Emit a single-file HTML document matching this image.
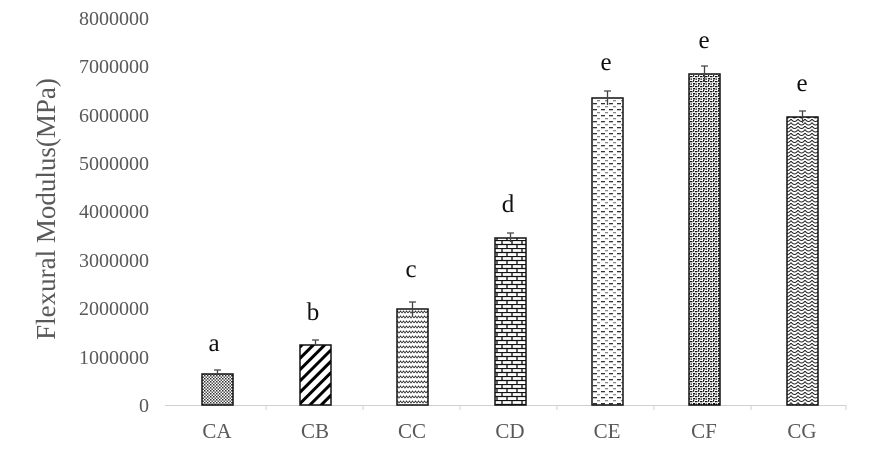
<!DOCTYPE html>
<html><head><meta charset="utf-8"><style>
html,body{margin:0;padding:0;background:#fff;}
svg{display:block;font-family:"Liberation Serif",serif;}
</style></head><body>
<svg width="886" height="466" viewBox="0 0 886 466" xmlns="http://www.w3.org/2000/svg">
<defs>
<pattern id="pA" width="3" height="3" patternUnits="userSpaceOnUse"><rect width="3" height="3" fill="#fff"/><rect width="1.5" height="1.5" fill="#333"/><rect x="1.5" y="1.5" width="1.5" height="1.5" fill="#555"/></pattern>
<pattern id="pB" width="8" height="8" patternUnits="userSpaceOnUse" patternTransform="rotate(45)"><rect width="8" height="8" fill="#fff"/><rect width="3" height="8" fill="#000"/></pattern>
<pattern id="pC" width="6" height="5" patternUnits="userSpaceOnUse"><rect width="6" height="5" fill="#fff"/><path d="M0 3 L1.5 1 L3 3 L4.5 1 L6 3" stroke="#333" fill="none" stroke-width="0.9"/></pattern>
<pattern id="pD" width="10" height="8" patternUnits="userSpaceOnUse"><rect width="10" height="8" fill="#fff"/><path d="M0 0.5H10M0 4.5H10M2 0V4M7 4V8" stroke="#111" stroke-width="1.3"/></pattern>
<pattern id="pE" width="8" height="6" patternUnits="userSpaceOnUse"><rect width="8" height="6" fill="#fff"/><rect x="1" y="1" width="4" height="1.3" fill="#333"/><rect x="5" y="4" width="3" height="1.3" fill="#888"/></pattern>
<pattern id="pF" width="5" height="5" patternUnits="userSpaceOnUse"><rect width="5" height="5" fill="#fff"/><path d="M0 1h2.5v1.2h-2.5zM3 3h2v1.5h-2zM0.5 3.5h1.5v1.2h-1.5zM3 0h1.2v1.8h-1.2z" fill="#111"/></pattern>
<pattern id="pG" width="7" height="7" patternUnits="userSpaceOnUse"><rect width="7" height="7" fill="#fff"/><path d="M0 0 Q3.5 5 7 0M0 3.5 Q3.5 8.5 7 3.5" stroke="#222" fill="none" stroke-width="1"/></pattern>
</defs>
<g fill="#595959" font-size="20" text-anchor="end">
<text x="149" y="412">0</text>
<text x="149" y="364">1000000</text>
<text x="149" y="315">2000000</text>
<text x="149" y="267">3000000</text>
<text x="149" y="218">4000000</text>
<text x="149" y="170">5000000</text>
<text x="149" y="122">6000000</text>
<text x="149" y="73">7000000</text>
<text x="149" y="25">8000000</text>
</g>
<text transform="translate(55,209) rotate(-90)" text-anchor="middle" font-size="27" fill="#595959">Flexural Modulus(MPa)</text>
<line x1="165" y1="405.5" x2="846" y2="405.5" stroke="#d0d0d0" stroke-width="1"/>
<g stroke="#d0d0d0"><line x1="266" y1="405" x2="266" y2="410"/><line x1="363" y1="405" x2="363" y2="410"/><line x1="460" y1="405" x2="460" y2="410"/><line x1="557" y1="405" x2="557" y2="410"/><line x1="654" y1="405" x2="654" y2="410"/><line x1="751" y1="405" x2="751" y2="410"/><line x1="846" y1="405" x2="846" y2="410"/></g>
<g stroke="#111" stroke-width="1.5">
<rect x="202" y="374" width="31" height="31" fill="url(#pA)"/>
<rect x="300" y="345" width="31" height="60" fill="url(#pB)"/>
<rect x="397" y="309" width="31" height="96" fill="url(#pC)"/>
<rect x="495" y="238" width="31" height="167" fill="url(#pD)"/>
<rect x="592" y="98" width="31" height="307" fill="url(#pE)"/>
<rect x="689" y="74" width="31" height="331" fill="url(#pF)"/>
<rect x="787" y="117" width="31" height="288" fill="url(#pG)"/>
</g>
<g stroke="#444" stroke-width="1.3">
<path d="M217.5 374V370M214 370H221"/>
<path d="M315.5 345V340M312 340H319"/>
<path d="M412.5 316V302M409 302H416"/>
<path d="M510.5 242V233M507 233H514"/>
<path d="M607.5 105V91M604 91H611"/>
<path d="M704.5 82V66M701 66H708"/>
<path d="M802.5 123V111M799 111H806"/>
</g>
<g font-size="25" text-anchor="middle" fill="#111">
<text x="214" y="351">a</text>
<text x="313" y="320">b</text>
<text x="411" y="277">c</text>
<text x="508" y="212">d</text>
<text x="606" y="70">e</text>
<text x="704" y="48">e</text>
<text x="802" y="91">e</text>
</g>
<g font-size="21" text-anchor="middle" fill="#595959">
<text x="217" y="438">CA</text><text x="315" y="438">CB</text><text x="412" y="438">CC</text><text x="510" y="438">CD</text><text x="607" y="438">CE</text><text x="704" y="438">CF</text><text x="802" y="438">CG</text>
</g>
</svg>
</body></html>
